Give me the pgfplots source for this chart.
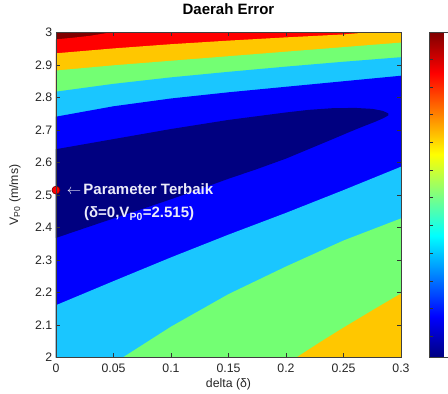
\documentclass[border=0pt]{standalone}
\usepackage{fontspec}
\setmainfont{Liberation Sans}
\usepackage{pgfplots}
\pgfplotsset{compat=1.18}
\definecolor{cnavy}{RGB}{0,0,128}
\definecolor{cblue}{RGB}{0,0,255}
\definecolor{clight}{RGB}{26,198,255}
\definecolor{cgreen}{RGB}{115,255,115}
\definecolor{corange}{RGB}{255,199,0}
\definecolor{cred}{RGB}{255,0,0}
\definecolor{cdark}{RGB}{128,0,0}
\definecolor{annot}{RGB}{235,235,250}
\begin{document}
\begin{tikzpicture}
\useasboundingbox (-56bp,-36.5bp) rectangle (392bp,357.5bp);
\begin{axis}[
  at={(0,0)}, anchor=south west,
  scale only axis, width=345bp, height=325bp,
  xmin=0, xmax=0.3, ymin=2, ymax=3,
  scaled ticks=false,
  xtick={0,0.05,0.1,0.15,0.2,0.25,0.3},
  xticklabels={0,0.05,0.1,0.15,0.2,0.25,0.3},
  ytick={2,2.1,2.2,2.3,2.4,2.5,2.6,2.7,2.8,2.9,3},
  yticklabels={2,2.1,2.2,2.3,2.4,2.5,2.6,2.7,2.8,2.9,3},
  tick align=inside, major tick length=4bp,
  tick style={black!80},
  axis line style={black!75},
  axis on top,
  clip mode=individual,
  tick label style={font=\fontsize{12.3bp}{14bp}\selectfont, text=black!85},
  xticklabel style={anchor=base, yshift=-15bp},
  yticklabel style={anchor=east, inner sep=0pt, xshift=-3.7bp},
  title={Daerah Error},
  title style={font=\bfseries\fontsize{15bp}{17bp}\selectfont, at={(axis description cs:0.5,1)}, anchor=base, yshift=12bp},
  xlabel={delta (δ)},
  xlabel style={font=\fontsize{12.3bp}{14bp}\selectfont, text=black!85, at={(axis description cs:0.5,0)}, anchor=base, yshift=-29.5bp},
  ylabel={V\textsubscript{P0} (m/ms)},
  ylabel style={font=\fontsize{12.3bp}{14bp}\selectfont, text=black!85, at={(axis description cs:-0.119,0.5)}, anchor=center, rotate=0},
  colormap/jet,
  point meta min=0, point meta max=325,
  colorbar,
  colorbar style={
    at={(parent axis.north east)}, anchor=north west, xshift=20bp,
    width=26bp,
    ytick={21.5,49.2,76.9,104.6,132.3,160,187.7,215.4,243.1,270.8,298.5},
    yticklabels={},
    ytick pos=both,
    tick align=inside, major tick length=3bp,
    tick style={black!80},
    axis line style={black!75},
  },
]
% layered filled contour bands
\addplot[fill=cdark, draw=none] coordinates {(0,2) (0,3) (0.3,3) (0.3,2)};
\addplot[fill=cred, draw=none] coordinates {(0,2) (0,2.979) (0.015,2.984) (0.03,2.990) (0.047,3.0) (0.3,3) (0.3,2)};
\addplot[fill=corange, draw=none] coordinates {(0,2) (0,2.936) (0.05,2.951) (0.1,2.964) (0.15,2.975) (0.2,2.985) (0.25,2.994) (0.27,3.0) (0.3,3) (0.3,2)};
\addplot[fill=cgreen, draw=none] coordinates {(0,2) (0,2.883) (0.05,2.899) (0.1,2.913) (0.15,2.927) (0.2,2.941) (0.25,2.955) (0.3,2.969) (0.3,2)};
\addplot[fill=clight, draw=none] coordinates {(0,2) (0,2.818) (0.05,2.842) (0.1,2.862) (0.15,2.879) (0.2,2.895) (0.25,2.910) (0.3,2.924) (0.3,2)};
\addplot[fill=cblue, draw=none] coordinates {(0,2) (0,2.741) (0.05,2.773) (0.1,2.797) (0.15,2.816) (0.2,2.833) (0.25,2.850) (0.3,2.867) (0.3,2)};
\addplot[fill=cnavy, draw=none] coordinates {(0,2.368) (0,2.641) (0.05,2.672) (0.1,2.703) (0.15,2.731) (0.2,2.754) (0.22,2.762) (0.24,2.767) (0.26,2.768) (0.275,2.765) (0.284,2.759) (0.289,2.751) (0.289,2.745) (0.285,2.737) (0.278,2.726) (0.265,2.708) (0.256,2.695) (0.24,2.671) (0.221,2.643) (0.2,2.612) (0.175,2.580) (0.15,2.550) (0.125,2.518) (0.1,2.487) (0.075,2.457) (0.05,2.428) (0.025,2.398)};
\addplot[fill=clight, draw=none] coordinates {(0,2) (0,2.161) (0.05,2.235) (0.1,2.308) (0.15,2.378) (0.2,2.445) (0.25,2.515) (0.3,2.587) (0.3,2)};
\addplot[fill=cgreen, draw=none] coordinates {(0.058,2) (0.1,2.095) (0.15,2.195) (0.2,2.280) (0.25,2.360) (0.3,2.428) (0.3,2)};
\addplot[fill=corange, draw=none] coordinates {(0.209,2) (0.23,2.048) (0.25,2.092) (0.275,2.145) (0.3,2.197) (0.3,2)};
% best parameter
\addplot[only marks, mark=*, mark size=4bp, mark options={fill=red, draw=red!45!black, line width=0.6bp}] coordinates {(0,2.515)};
\node[anchor=base west, inner sep=0pt, text=annot, font=\fontsize{15bp}{17bp}\selectfont] at (axis cs:0.0093,2.500) {$\leftarrow$};
\node[anchor=base west, inner sep=0pt, text=annot, font=\bfseries\fontsize{15bp}{17bp}\selectfont] at (axis cs:0.0237,2.500) {Parameter Terbaik};
\node[anchor=base west, inner sep=0pt, text=annot, font=\bfseries\fontsize{15bp}{17bp}\selectfont] at (axis cs:0.0243,2.430) {(δ=0,V\textsubscript{P0}=2.515)};
\end{axis}
\end{tikzpicture}
\end{document}
